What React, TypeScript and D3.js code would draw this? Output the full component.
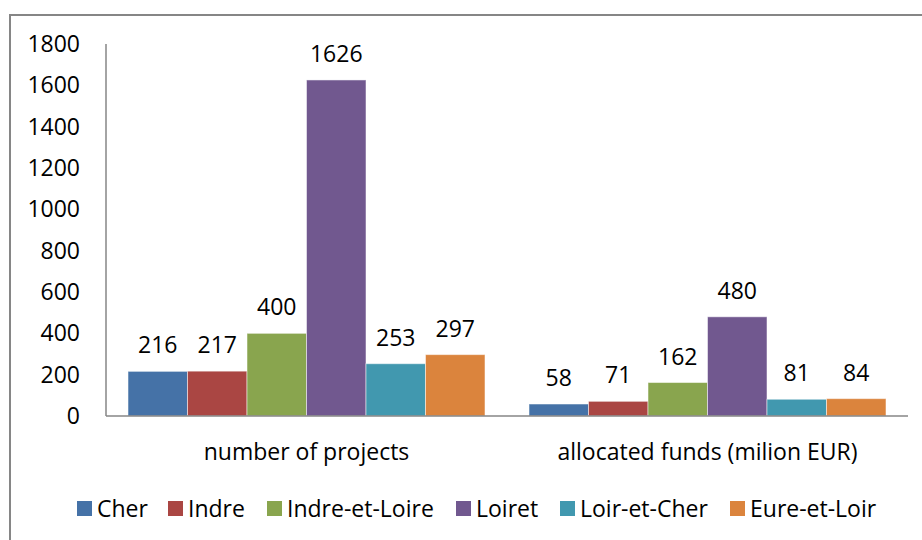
import React from "react";
import { scaleBand, scaleLinear } from "d3";

const groups = ["number of projects", "allocated funds (milion EUR)"];
const departments = ["Cher", "Indre", "Indre-et-Loire", "Loiret", "Loir-et-Cher", "Eure-et-Loir"];
const projects = [216, 217, 400, 1626, 253, 297];
const funds = [58, 71, 162, 480, 81, 84];
const yTicks = [0, 200, 400, 600, 800, 1000, 1200, 1400, 1600, 1800];
const colors = ["#4572A7", "#AA4643", "#89A54E", "#71588F", "#4198AF", "#DB843D"];

const values = [projects, funds];

const FONT = "'Open Sans', 'Noto Sans', sans-serif";
const FS = 23;

export default function App() {
  const width = 922;
  const height = 540;
  const left = 106;
  const right = 908;
  const top = 44;
  const bottom = 416;

  // scales
  const x0 = scaleBand<string>().domain(groups).range([left, right]).padding(0);
  const x1 = scaleBand<string>()
    .domain(departments)
    .range([0, x0.bandwidth()])
    .paddingInner(0)
    .paddingOuter(0.37);
  const y = scaleLinear().domain([0, 1800]).range([bottom, top]);

  // legend positions (square x)
  const legendX = [77, 168, 267, 456, 560, 730];

  return (
    <svg width={width} height={height} style={{ position: "absolute", left: 0, top: 0 }}>
      <rect x={0} y={0} width={width} height={height} fill="#fff" />
      {/* chart frame */}
      <rect x={10} y={15} width={width} height={height} fill="none" stroke="#868686" strokeWidth={2} />

      {/* y-axis labels */}
      {yTicks.map((t) => (
        <text
          key={t}
          x={80}
          y={y(t)}
          dy="0.35em"
          textAnchor="end"
          fontFamily={FONT}
          fontSize={FS}
          fill="#000"
        >
          {t}
        </text>
      ))}

      {/* bars */}
      {groups.map((g, gi) => (
        <g key={g} transform={`translate(${x0(g)},0)`}>
          {departments.map((d, di) => {
            const v = values[gi][di];
            const bx = x1(d)!;
            return (
              <g key={d}>
                <rect
                  x={bx}
                  y={y(v)}
                  width={x1.bandwidth()}
                  height={bottom - y(v)}
                  fill={colors[di]}
                  stroke="#ffffff"
                  strokeOpacity={0.5}
                  strokeWidth={1}
                />
                <text
                  x={bx + x1.bandwidth() / 2}
                  y={y(v) - 26}
                  dy="0.35em"
                  textAnchor="middle"
                  fontFamily={FONT}
                  fontSize={FS}
                  fill="#000"
                >
                  {v}
                </text>
              </g>
            );
          })}
          <text
            x={x0.bandwidth() / 2}
            y={452}
            dy="0.35em"
            textAnchor="middle"
            fontFamily={FONT}
            fontSize={FS}
            fill="#000"
          >
            {g}
          </text>
        </g>
      ))}

      {/* axes */}
      <line x1={left} x2={left} y1={top} y2={bottom} stroke="#868686" strokeWidth={1.5} />
      <line x1={left} x2={right} y1={bottom} y2={bottom} stroke="#868686" strokeWidth={1.5} />

      {/* legend */}
      {departments.map((d, i) => (
        <g key={d}>
          <rect x={legendX[i]} y={501} width={15} height={15} fill={colors[i]} />
          <text
            x={legendX[i] + 20}
            y={508.5}
            dy="0.35em"
            fontFamily={FONT}
            fontSize={FS}
            fill="#000"
          >
            {d}
          </text>
        </g>
      ))}
    </svg>
  );
}
